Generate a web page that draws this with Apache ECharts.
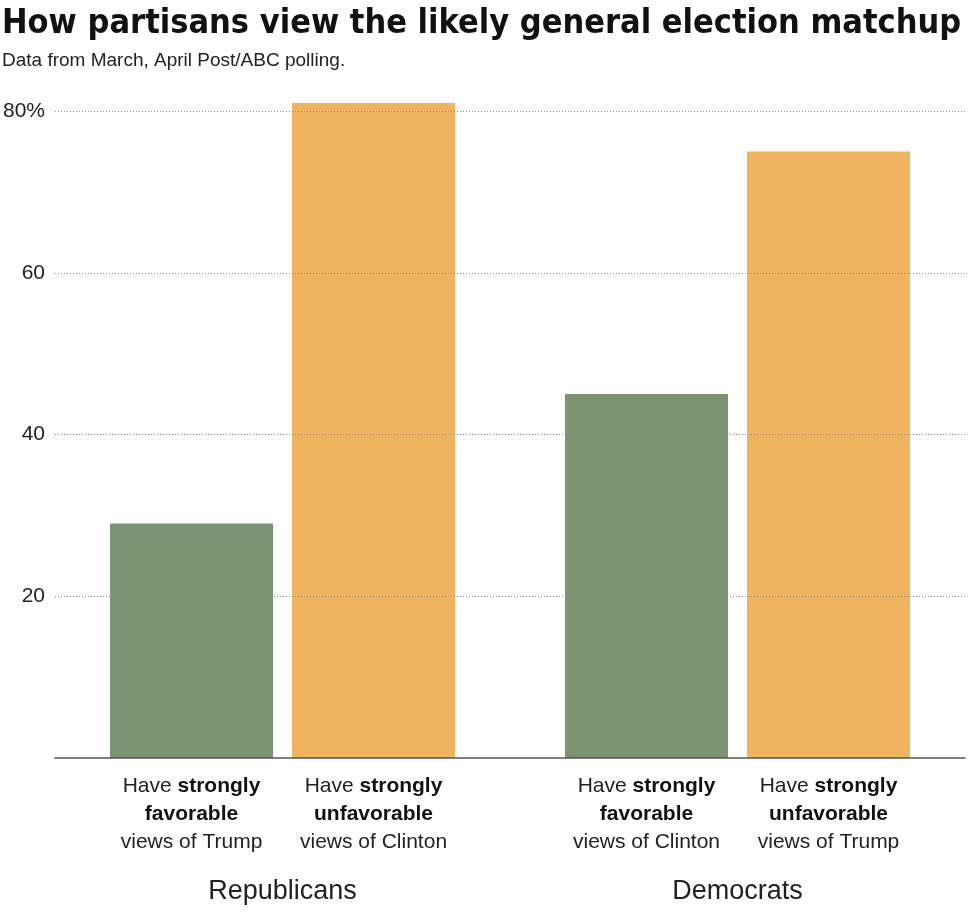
<!DOCTYPE html>
<html>
<head>
<meta charset="utf-8">
<script src="https://cdn.jsdelivr.net/npm/echarts@6/dist/echarts.min.js"></script>
<style>html,body{margin:0;padding:0;background:#fff}#c{width:980px;height:912px}</style>
</head>
<body>
<div id="c"></div>
<script>
var groups = ['Republicans', 'Democrats'];
var favorableValues = [29, 45];
var unfavorableValues = [81, 75];
var favorableTargets = ['Trump', 'Clinton'];
var unfavorableTargets = ['Clinton', 'Trump'];
var yTicks = [0, 20, 40, 60, 80];

var FONT = '"Liberation Sans", Arial, sans-serif';
var chart = echarts.init(document.getElementById('c'), null, {renderer: 'canvas'});

function barLabel(word, targets) {
  return function (p) {
    return 'Have {b|strongly}\n{b|' + word + '}\nviews of ' + targets[p.dataIndex];
  };
}
var labelStyle = function (word, targets) {
  return {
    show: true,
    position: 'bottom',
    distance: 14,
    formatter: barLabel(word, targets),
    fontFamily: FONT,
    fontSize: 21,
    lineHeight: 28,
    color: '#222',
    align: 'center',
    rich: {
      b: {fontFamily: FONT, fontSize: 21, lineHeight: 28, fontWeight: 'bold', color: '#111'}
    }
  };
};

chart.setOption({
  animation: false,
  backgroundColor: '#fff',
  title: [
    {text: 'How partisans view the likely general election matchup', left: 2, top: 7, padding: 0,
     textStyle: {fontFamily: '"DejaVu Sans Condensed", "Liberation Sans", sans-serif', fontSize: 34, fontWeight: 'bold', color: '#111'}},
    {text: 'Data from March, April Post/ABC polling.', left: 2, top: 51, padding: 0,
     textStyle: {fontFamily: FONT, fontSize: 19, fontWeight: 'normal', color: '#222'}}
  ],
  grid: {left: 55, right: 15, top: 111, bottom: 154, containLabel: false},
  xAxis: {
    type: 'category',
    data: groups,
    axisLine: {show: true, lineStyle: {color: '#555', width: 1.5}},
    axisTick: {show: false},
    axisLabel: {margin: 118, fontFamily: FONT, fontSize: 27, lineHeight: 32, color: '#222'},
    z: 5
  },
  yAxis: {
    type: 'value',
    min: yTicks[0],
    max: yTicks[yTicks.length - 1],
    interval: 20,
    z: 5,
    axisLine: {show: false},
    axisTick: {show: false},
    axisLabel: {
      margin: 10,
      fontFamily: FONT, fontSize: 21, color: '#222',
      formatter: function (v) {
        if (v === 0) return '';
        return v === yTicks[yTicks.length - 1] ? v + '%' : String(v);
      }
    },
    splitLine: {show: true, showMinLine: false, lineStyle: {color: '#8a8a8a', type: [1, 2], width: 1}}
  },
  series: [
    {
      type: 'bar', name: 'favorable', data: favorableValues,
      barWidth: 163, barGap: '11.66%', clip: false,
      itemStyle: {color: '#7a9472'},
      label: labelStyle('favorable', favorableTargets)
    },
    {
      type: 'bar', name: 'unfavorable', data: unfavorableValues,
      barWidth: 163, barGap: '11.66%', clip: false,
      itemStyle: {color: '#f0b35f'},
      label: labelStyle('unfavorable', unfavorableTargets)
    }
  ]
});
</script>
</body>
</html>
